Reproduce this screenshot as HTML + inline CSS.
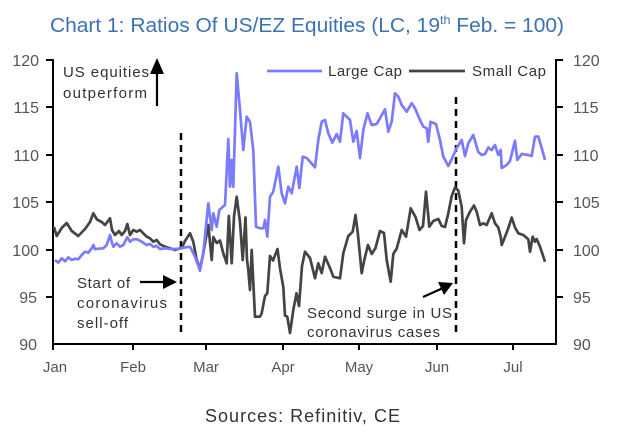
<!DOCTYPE html>
<html><head><meta charset="utf-8"><style>
html,body{margin:0;padding:0;background:#fff;}
svg{display:block;}
text{font-family:"Liberation Sans",sans-serif;}
</style></head><body>
<svg width="620" height="434" viewBox="0 0 620 434" xmlns="http://www.w3.org/2000/svg">
<rect width="620" height="434" fill="#fff"/>
<!-- title -->
<text x="50" y="32" font-size="20" fill="#3d72b0" textLength="514" lengthAdjust="spacingAndGlyphs">Chart 1: Ratios Of US/EZ Equities (LC, 19<tspan font-size="12" dy="-8">th</tspan><tspan dy="8"> Feb. = 100)</tspan></text>

<!-- axes -->
<g stroke="#000" stroke-width="2" fill="none">
<line x1="53" y1="59" x2="53" y2="345"/>
<line x1="556" y1="59" x2="556" y2="345"/>
<line x1="52" y1="344" x2="557" y2="344"/>
<line x1="46" y1="60" x2="53" y2="60"/>
<line x1="46" y1="107" x2="53" y2="107"/>
<line x1="46" y1="155" x2="53" y2="155"/>
<line x1="46" y1="202" x2="53" y2="202"/>
<line x1="46" y1="250" x2="53" y2="250"/>
<line x1="46" y1="297" x2="53" y2="297"/>
<line x1="556" y1="60" x2="563" y2="60"/>
<line x1="556" y1="107" x2="563" y2="107"/>
<line x1="556" y1="155" x2="563" y2="155"/>
<line x1="556" y1="202" x2="563" y2="202"/>
<line x1="556" y1="250" x2="563" y2="250"/>
<line x1="556" y1="297" x2="563" y2="297"/>
<line x1="53" y1="344" x2="53" y2="350"/>
<line x1="133" y1="344" x2="133" y2="350"/>
<line x1="206" y1="344" x2="206" y2="350"/>
<line x1="283" y1="344" x2="283" y2="350"/>
<line x1="359" y1="344" x2="359" y2="350"/>
<line x1="437" y1="344" x2="437" y2="350"/>
<line x1="513" y1="344" x2="513" y2="350"/>
</g>

<!-- y labels left -->
<g font-size="16" fill="#555" text-anchor="end">
<text x="39" y="66">120</text>
<text x="39" y="113">115</text>
<text x="39" y="161">110</text>
<text x="39" y="208">105</text>
<text x="39" y="256">100</text>
<text x="37" y="303">95</text>
<text x="37" y="350">90</text>
</g>
<g font-size="16" fill="#555">
<text x="573" y="66">120</text>
<text x="573" y="113">115</text>
<text x="573" y="161">110</text>
<text x="573" y="208">105</text>
<text x="573" y="256">100</text>
<text x="573" y="303">95</text>
<text x="573" y="350">90</text>
</g>
<!-- x labels -->
<g font-size="15" fill="#555" text-anchor="middle">
<text x="55" y="372">Jan</text>
<text x="133" y="372">Feb</text>
<text x="206" y="372">Mar</text>
<text x="283" y="372">Apr</text>
<text x="359" y="372">May</text>
<text x="437" y="372">Jun</text>
<text x="513" y="372">Jul</text>
</g>

<!-- dashed lines -->
<g stroke="#000" stroke-width="2.5" stroke-dasharray="7,5">
<line x1="181" y1="133" x2="181" y2="336"/>
<line x1="456" y1="97" x2="456" y2="336"/>
</g>

<!-- series: small cap (black) -->
<polyline fill="none" stroke="#444" stroke-width="2.7" stroke-linejoin="round" points="54,227 56.7,236 61.7,228 66.7,223 71.7,231 78.3,236 85,229 90,222 93.3,213.3 97,219.5 101.7,222 105,225 110,218.3 112,230 115,235 119,231 121.7,235 125,231 127.3,224 130,235 133.3,230 136.7,231.7 140,230 143.3,233.3 146.7,236.7 150,238.3 153.3,241.7 156.7,240 160,244.3 165,246.7 170,248.3 175,250 180,248.3 181.7,248.3 185,241 190,233.3 193.3,241.7 196.7,260 200,269 203.3,253 208.3,225 211.7,260 213.3,237 216.7,243 220,240.5 223.3,253.3 226.7,263.3 228.8,216 231.7,263.3 234,216.7 236.7,196.7 240,222 242.7,260 245.5,217.5 247,260 248.3,270 250,290 251.7,250 255,316.7 260,316.7 261.7,313.3 265,296 267.3,293.3 270,256 273,260.5 277.5,249 280,268.3 283.3,287 285,315.5 287.3,316.7 290,333 293.3,310 296.5,293.3 299,306 302,266 305,251.7 310,258 315,278.3 318.3,263.3 321.7,273 325,256.7 330,268 333.3,276.7 340,278.3 343.3,253.3 348.3,236 352.7,231.7 355.5,215 357.8,233 361.7,273.3 364.5,259 368,245 371.7,254 375.5,248 380,231 384,233 386.7,260 390.7,281.7 393.3,254 396.7,248.5 401.7,230 406,236.7 410.7,208.3 415.5,217 419.5,230 423,226 426,191.7 429.3,226.7 433.3,221 438.3,219 441.7,226 445,227 448.3,213.3 451.7,196 455,187.5 458.3,190.5 461.7,207 464,243.3 466,220 470,211.7 474,205.5 476.7,211.7 480,225 483.3,223.3 486.7,225 491.7,213.3 495,223.3 498.3,227.5 500.7,236.7 501.7,245 505,236.7 508.3,228.3 511.7,217.5 515,227.5 518.3,233.3 523.3,235 528.3,239.3 530,251.7 532.7,236.7 535,241.7 536.7,239 540,246.7 545,261.7"/>

<!-- series: large cap (blue) -->
<polyline fill="none" stroke="#7b7bff" stroke-width="2.7" stroke-linejoin="round" points="55,260 58.3,262.7 61.7,258.3 65,261.3 68.3,257.3 71.7,260 75,258.7 78.3,259.3 81.7,255 85,251.7 88.3,252.7 91.7,248.3 93.3,245 95,249.3 98.3,248.7 103.3,248.3 106.7,245 110,235 111.7,241.7 113.3,246.7 116.7,243.3 120,246.7 123.3,245 127.3,237.3 130,241.7 133.3,239.3 137.3,239.3 141.7,241.7 146.7,245 150,244 153.3,246.7 156.7,246 160,249 165,248.3 170,249 176.7,249 181.7,248 190,246.7 195,256.7 200,270.7 203.3,253.3 208.3,203.3 211.7,230 213.3,213.3 216.7,226.7 219.3,210 225,205 228.3,139 230,186.7 231.7,160 233.3,186.7 236.7,73.3 240,110 243.3,150 246.7,116.7 250,122 253.3,150 256,226.7 260,228.3 263.3,228.3 265,220 267.3,236.7 270,196.7 273.3,191.7 278.3,166.7 281.7,193.3 285,203.3 288.3,186.7 291.7,193.3 296.7,166.7 299.3,188 302.7,156.7 306.7,158 315,167.3 318.3,140 321.7,121.7 325,120 328.3,133.3 332.3,142.7 336.7,134 340,141.7 343.3,113.3 346.7,116.7 350,120 353.3,141.7 356.7,131 360,158 363.3,130 367.5,113.3 371.7,125 376.7,124 385,109.3 388.3,131.7 391.7,121.7 395,93.3 398.3,96.7 401.7,105 406.7,111.7 411.7,103.3 415,108.3 420,120 423.3,126.7 426.7,128.3 428.3,141.7 430.5,121.7 436,124 440,140 443.3,156.7 448.3,166 451.7,159 456.7,148 461.7,140 465,156 468.3,143.3 473.3,135 478.3,152 481.7,155 485,154 488.3,147.5 491.7,150 495,145 498.3,155 500.7,150 501.7,168 506.7,165 510,161 515,140.7 517.3,160 521.7,154 528.3,155 531.7,156 535,136.7 538.3,136.5 541.7,148 545,160"/>

<!-- legend -->
<line x1="267" y1="71" x2="322" y2="71" stroke="#7b7bff" stroke-width="2.7"/>
<text x="328" y="76" font-size="15" fill="#333" textLength="74">Large Cap</text>
<line x1="409" y1="71" x2="465" y2="71" stroke="#444" stroke-width="2.7"/>
<text x="472" y="76" font-size="15" fill="#333" textLength="74">Small Cap</text>

<!-- annotation: US equities outperform -->
<g font-size="15" fill="#333">
<text x="63" y="77" textLength="86">US equities</text>
<text x="63" y="98" textLength="84">outperform</text>
</g>
<line x1="157" y1="106" x2="157" y2="70" stroke="#000" stroke-width="2.2"/>
<polygon points="150,74 164,74 157,58" fill="#000"/>

<!-- annotation: start of coronavirus sell-off -->
<g font-size="15" fill="#333">
<text x="77" y="288" textLength="53">Start of</text>
<text x="77" y="308" textLength="90">coronavirus</text>
<text x="77" y="328" textLength="51">sell-off</text>
</g>
<line x1="140" y1="282" x2="166" y2="282" stroke="#000" stroke-width="2.2"/>
<polygon points="163,275 177,282 163,289" fill="#000"/>

<!-- annotation: second surge -->
<g font-size="15" fill="#333">
<text x="307" y="318" textLength="145">Second surge in US</text>
<text x="307" y="337" textLength="133">coronavirus cases</text>
</g>
<line x1="423" y1="297" x2="443" y2="288" stroke="#000" stroke-width="2.2"/>
<polygon points="438,282 453,283 444,295" fill="#000"/>

<!-- source -->
<text x="205" y="422" font-size="18" fill="#333" textLength="195">Sources: Refinitiv, CE</text>
</svg>
</body></html>
